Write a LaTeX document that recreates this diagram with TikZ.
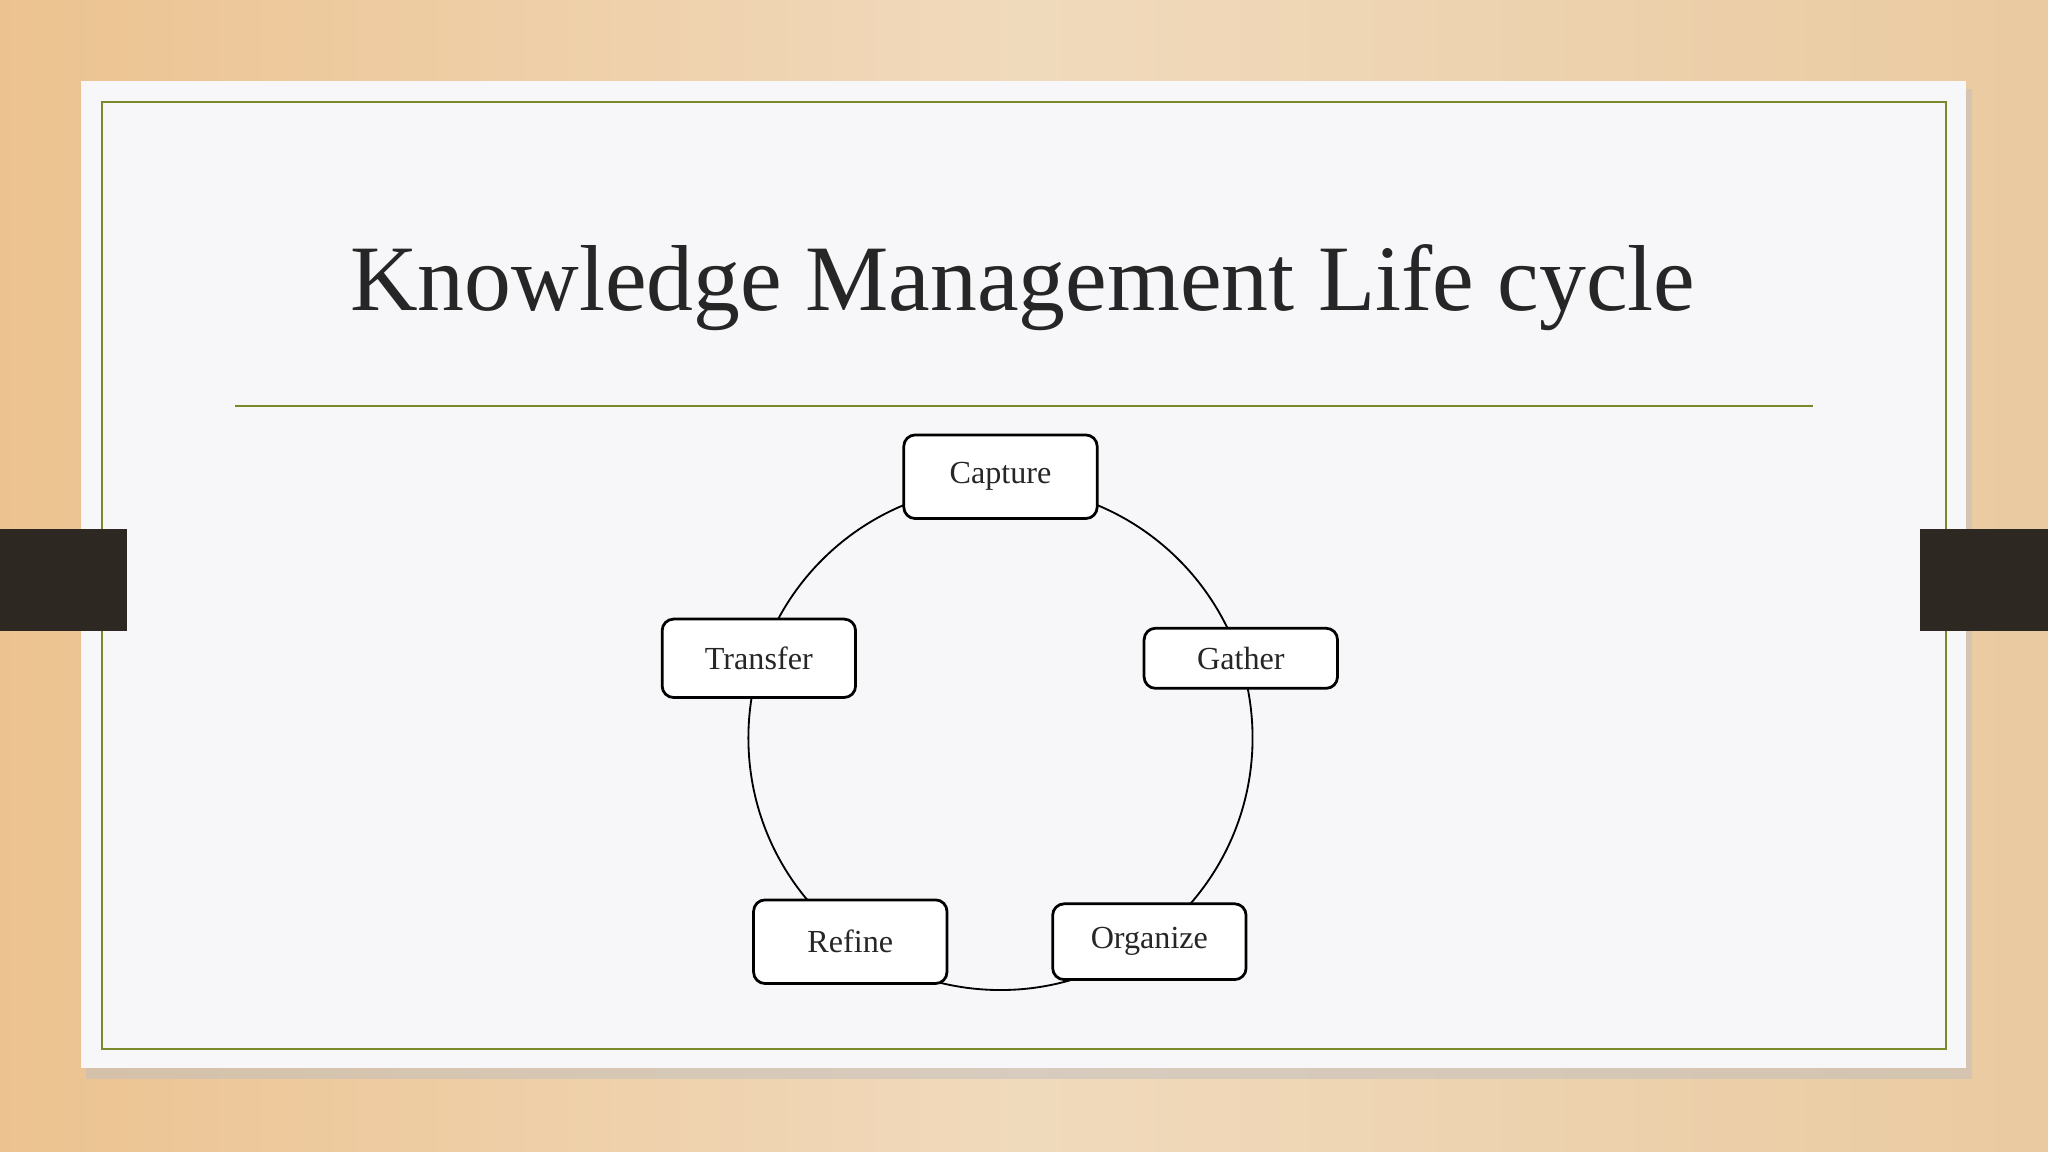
\documentclass[tikz,border=0pt]{standalone}
\usepackage{fontspec}
\setmainfont{Liberation Serif}
\begin{document}
\begin{tikzpicture}[x=0.01cm,y=-0.01cm,
  stage/.style={draw=black,line width=0.6pt,rounded corners=2.5pt,fill=white,minimum width=1.48cm,inner sep=0pt,font=\fontsize{7}{8}\selectfont,text=black!85},
  olive/.style={draw={rgb,255:red,122;green,138;blue,42},line width=0.5pt}]
\definecolor{wood}{RGB}{234,202,160}
\definecolor{card}{RGB}{247,246,248}
\definecolor{tab}{RGB}{46,40,35}
\useasboundingbox (0,0) rectangle (1568,882);
\shade[left color=wood!90!orange,right color=wood,middle color=wood!70!white] (0,0) rectangle (1568,882);
\fill[black!25,opacity=0.5] (66,68) rectangle (1510,826);
\fill[card] (62,62) rectangle (1505,818);
\draw[olive] (78,78) rectangle (1490,803);
\fill[tab] (0,405) rectangle (97,483);
\fill[tab] (1470,405) rectangle (1568,483);
\node[font=\fontsize{20.4}{24}\selectfont,text=black!85] (title) at (783,220) {Knowledge Management Life cycle};
\draw[olive] (180,311) coordinate (l1) -- (1388,311) coordinate (l2);
\draw[line width=0.4pt] (766,565) circle (193);
\node[stage,minimum height=0.64cm] (capture) at (766,365) {Capture};
\node[stage,minimum height=0.46cm] (gather) at (950,504) {Gather};
\node[stage,minimum height=0.58cm] (organize) at (880,721) {Organize};
\node[stage,minimum height=0.64cm] (refine) at (651,721) {Refine};
\node[stage,minimum height=0.60cm] (transfer) at (581,504) {Transfer};
\end{tikzpicture}
\end{document}
